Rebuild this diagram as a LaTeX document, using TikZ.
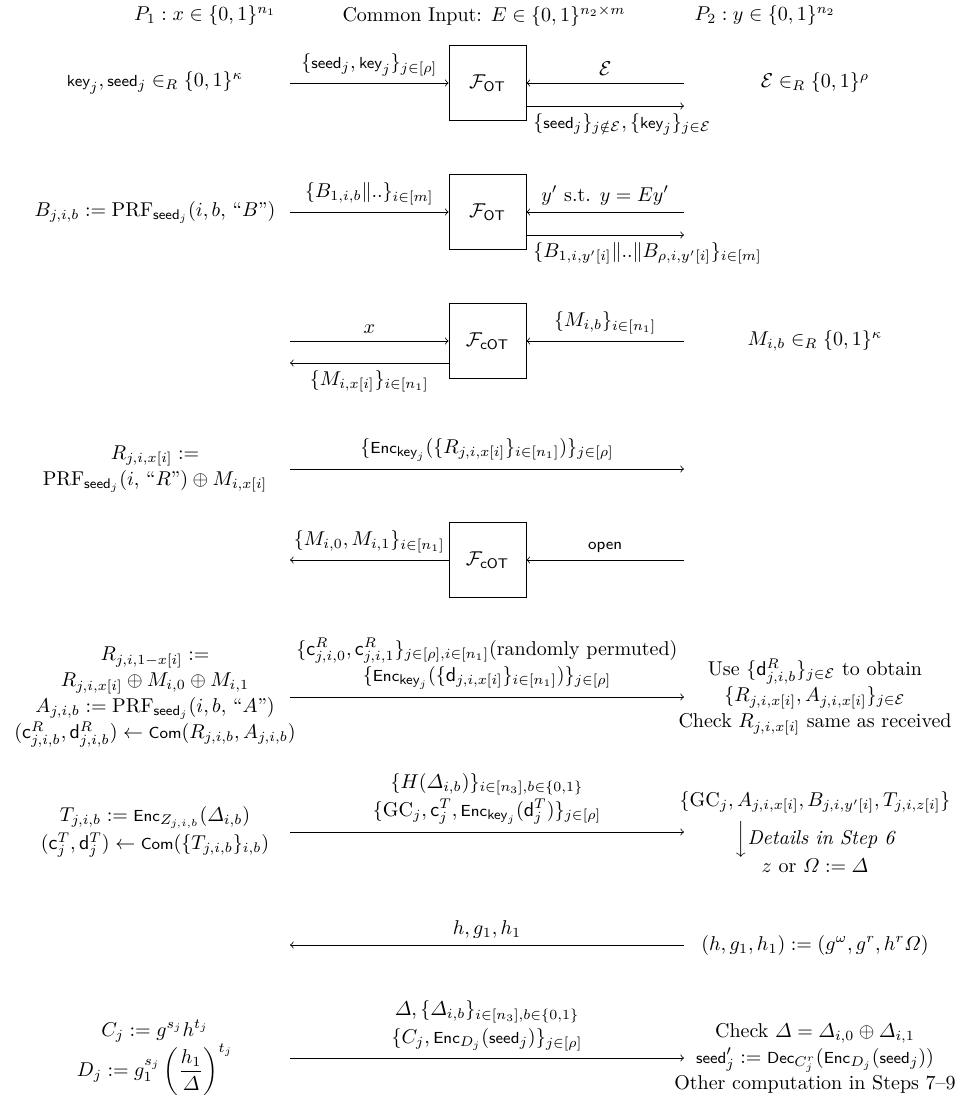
\documentclass[tikz,border=0pt]{standalone}
\usepackage{amssymb}
\usepackage{amsmath}
\usepackage{tikz}
\usetikzlibrary{arrows, calc, positioning}
\tikzstyle{func} = [rectangle, draw, minimum width=38.5pt, minimum height=37.5pt]
\tikzstyle{msg} = [draw, ->]
\newcommand{\fsf}[1]{{\mathchoice{\text{\footnotesize\sffamily #1}}{\text{\footnotesize\sffamily #1}}{\text{\scriptsize\sffamily #1}}{\text{\tiny\sffamily #1}}}}

\begin{document}
\begin{tikzpicture}[x=0.5pt, y=-0.5pt]
\useasboundingbox (0,0) rectangle (969,1095);

% parties and common input
\node (p1) at (205,16) {$P_1: x \in \{0,1\}^{n_1}$};
\node (ci) at (484,16) {Common Input: $E \in \{0,1\}^{n_2 \times m}$};
\node (p2) at (765,16) {$P_2: y \in \{0,1\}^{n_2}$};

% seeds and keys
\node[func] (ot1) at (487.5,83) {$\mathcal{F}_{\mathsf{OT}}$};
\coordinate (s1) at (290,83);
\coordinate (r1) at (684,83);
\coordinate (o1) at (684,106);
\node (keys) at (155,83) {$\fsf{key}_j, \fsf{seed}_j \in_R \{0,1\}^\kappa$};
\node (echo) at (815,83) {$\mathcal{E} \in_R \{0,1\}^\rho$};
\draw[msg] (s1) -- (ot1.west) node[midway, above] (l1) {$\{\fsf{seed}_j, \fsf{key}_j\}_{j\in[\rho]}$};
\draw[msg] (r1) -- (ot1.east) node[midway, above] (m1) {$\mathcal{E}$};
\draw[msg] (ot1.east |- o1) node[below right] (n1) {$\{\fsf{seed}_j\}_{j\notin\mathcal{E}}, \{\fsf{key}_j\}_{j\in\mathcal{E}}$} -- (o1);

% B values
\node[func] (ot2) at (487.5,212) {$\mathcal{F}_{\mathsf{OT}}$};
\coordinate (s2) at (290,212);
\coordinate (r2) at (684,212);
\coordinate (o2) at (684,235);
\node (bval) at (155,212) {$B_{j,i,b} := \mathrm{PRF}_{\fsf{seed}_j}(i, b,$ ``$B$''$)$};
\draw[msg] (s2) -- (ot2.west) node[midway, above] (l2) {$\{B_{1,i,b}\|..\}_{i\in[m]}$};
\draw[msg] (r2) -- (ot2.east) node[midway, above] (m2) {$y'$ s.t. $y = Ey'$};
\draw[msg] (ot2.east |- o2) node[below right] (n2) {$\{B_{1,i,y'[i]}\|..\|B_{\rho,i,y'[i]}\}_{i\in[m]}$} -- (o2);

% M values
\node[func] (cot1) at (487.5,341) {$\mathcal{F}_{\mathsf{cOT}}$};
\coordinate (s3) at (290,341);
\coordinate (r3) at (684,341);
\coordinate (o3) at (290,363);
\node (mval) at (815,341) {$M_{i,b} \in_R \{0,1\}^\kappa$};
\draw[msg] (s3) -- (cot1.west) node[midway, above] (l3) {$x$};
\draw[msg] (r3) -- (cot1.east) node[midway, above] (m3) {$\{M_{i,b}\}_{i\in[n_1]}$};
\draw[msg] (cot1.west |- o3) -- (o3) node[midway, below] (n3) {$\{M_{i,x[i]}\}_{i\in[n_1]}$};

% R values
\coordinate (s4) at (290,469);
\coordinate (r4) at (684,469);
\node[align=center] (rval) at (155,469) {$R_{j,i,x[i]} :=$\\[1pt] $\mathrm{PRF}_{\fsf{seed}_j}(i,$ ``$R$''$) \oplus M_{i,x[i]}$};
\draw[msg] (s4) -- (r4) node[midway, above] (l4) {$\{\fsf{Enc}_{\fsf{key}_j}(\{R_{j,i,x[i]}\}_{i\in[n_1]})\}_{j\in[\rho]}$};

% open
\node[func] (cot2) at (487.5,560) {$\mathcal{F}_{\mathsf{cOT}}$};
\coordinate (s5) at (290,560);
\coordinate (r5) at (684,560);
\draw[msg] (cot2.west) -- (s5) node[midway, above] (l5) {$\{M_{i,0}, M_{i,1}\}_{i\in[n_1]}$};
\draw[msg] (r5) -- (cot2.east) node[midway, above] (m5) {$\fsf{open}$};

% commitments
\coordinate (s6) at (290,697);
\coordinate (r6) at (684,697);
\node[align=center] (comr) at (155,697) {$R_{j,i,1-x[i]} :=$\\[1pt] $R_{j,i,x[i]} \oplus M_{i,0} \oplus M_{i,1}$\\[1pt] $A_{j,i,b} := \mathrm{PRF}_{\fsf{seed}_j}(i, b,$ ``$A$''$)$\\[1pt] $(\mathsf{c}^R_{j,i,b}, \mathsf{d}^R_{j,i,b}) \leftarrow \fsf{Com}(R_{j,i,b}, A_{j,i,b})$};
\node[align=center] (chkr) at (815,697) {Use $\{\mathsf{d}^R_{j,i,b}\}_{j\in\mathcal{E}}$ to obtain\\[1pt] $\{R_{j,i,x[i]}, A_{j,i,x[i]}\}_{j\in\mathcal{E}}$\\[1pt] Check $R_{j,i,x[i]}$ same as received};
\draw[msg] (s6) -- (r6) node[midway, above, align=center] (l6) {$\{\mathsf{c}^R_{j,i,0}, \mathsf{c}^R_{j,i,1}\}_{j\in[\rho],i\in[n_1]}$(randomly permuted)\\[1pt] $\{\fsf{Enc}_{\fsf{key}_j}(\{\mathsf{d}_{j,i,x[i]}\}_{i\in[n_1]})\}_{j\in[\rho]}$};

% garbled circuits
\coordinate (s7) at (290,832);
\coordinate (r7) at (684,832);
\node[align=center] (tval) at (155,832) {$T_{j,i,b} := \fsf{Enc}_{Z_{j,i,b}}(\varDelta_{i,b})$\\[2pt] $(\mathsf{c}^T_j, \mathsf{d}^T_j) \leftarrow \fsf{Com}(\{T_{j,i,b}\}_{i,b})$};
\node[align=center] (eval) at (815,832) {$\{\mathrm{GC}_j, A_{j,i,x[i]}, B_{j,i,y'[i]}, T_{j,i,z[i]}\}$\\[3pt] $\Big\downarrow$\textit{Details in Step 6}\\ $z$ or $\varOmega := \varDelta$};
\draw[msg] (s7) -- (r7) node[midway, above, align=center] (l7) {$\{H(\varDelta_{i,b})\}_{i\in[n_3],b\in\{0,1\}}$\\[2pt] $\{\mathrm{GC}_j, \mathsf{c}^T_j, \fsf{Enc}_{\fsf{key}_j}(\mathsf{d}^T_j)\}_{j\in[\rho]}$};

% h, g1, h1
\coordinate (s8) at (290,945);
\coordinate (r8) at (684,945);
\node (hval) at (815,945) {$(h, g_1, h_1) := (g^\omega, g^r, h^r\varOmega)$};
\draw[msg] (r8) -- (s8) node[midway, above] (l8) {$h, g_1, h_1$};

% final check
\coordinate (s9) at (290,1058);
\coordinate (r9) at (684,1058);
\node[align=center] (cval) at (155,1058) {$C_j := g^{s_j} h^{t_j}$\\ $D_j := g_1^{s_j}\left(\dfrac{h_1}{\varDelta}\right)^{t_j}$};
\node[align=center] (fin) at (815,1058) {Check $\varDelta = \varDelta_{i,0} \oplus \varDelta_{i,1}$\\[1pt] $\fsf{seed}'_j := \fsf{Dec}_{C_j^r}(\fsf{Enc}_{D_j}(\fsf{seed}_j))$\\[1pt] Other computation in Steps 7--9};
\draw[msg] (s9) -- (r9) node[midway, above, align=center] (l9) {$\varDelta, \{\varDelta_{i,b}\}_{i\in[n_3],b\in\{0,1\}}$\\[2pt] $\{C_j, \fsf{Enc}_{D_j}(\fsf{seed}_j)\}_{j\in[\rho]}$};
\end{tikzpicture}
\end{document}
